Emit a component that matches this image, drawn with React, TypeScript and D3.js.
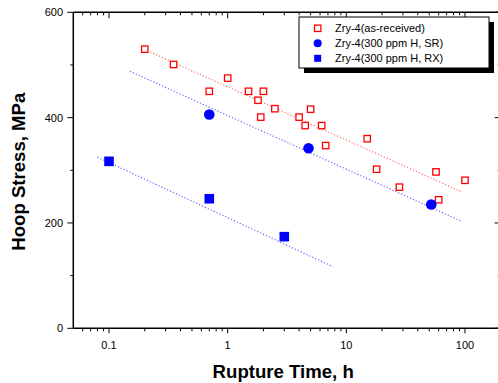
import React, { useEffect, useRef } from "react";
import * as d3 from "d3";

// rupture time (h) and hoop stress (MPa)
const asReceivedTime = [0.2, 0.35, 0.7, 1, 1.5, 2, 1.8, 2.5, 1.9, 5, 4, 4.5, 6.2, 6.7, 15, 18, 28, 57, 100, 60];
const asReceivedStress = [530, 501, 450, 475, 450, 450, 433, 417, 401, 416, 401, 385, 385, 347, 360, 302, 268, 297, 281, 244];

const srTime = [0.7, 4.8, 52];
const srStress = [406, 342, 235];

const rxTime = [0.1, 0.7, 3];
const rxStress = [317, 246, 174];

// dotted fit lines, end points [time, stress]
const fitAsReceived = [[0.21, 527], [92, 260]];
const fitSR = [[0.15, 488], [92, 204]];
const fitRX = [[0.08, 325], [7.7, 117]];

const xTicks = [0.1, 1, 10, 100];
const yTicks = [0, 200, 400, 600];

const legendLabels = ["Zry-4(as-received)", "Zry-4(300 ppm H, SR)", "Zry-4(300 ppm H, RX)"];

const App = () => {
  const ref = useRef<SVGSVGElement>(null);

  useEffect(() => {
    draw();
  });

  const draw = () => {
    const svg = d3.select(ref.current);
    svg.selectAll("*").remove();

    const left = 73.3;
    const right = 500.7;
    const top = 12.3;
    const bottom = 328.3;
    const font = "Arial, 'Liberation Sans', sans-serif";

    const x = d3.scaleLog().domain([0.05, 200]).range([left, right]);
    const y = d3.scaleLinear().domain([0, 600]).range([bottom, top]);

    // minor ticks on log axis
    const minor: number[] = [];
    [0.01, 0.1, 1, 10, 100].forEach((d) => {
      for (let k = 2; k <= 9; k++) {
        const v = d * k;
        if (v > 0.05 && v < 200) minor.push(v);
      }
    });
    const yMinor = [100, 300, 500];

    const g = svg.append("g");

    // fit lines
    const line = d3
      .line<number[]>()
      .x((d) => x(d[0]))
      .y((d) => y(d[1]));

    g.append("path")
      .attr("d", line(fitAsReceived))
      .attr("fill", "none")
      .attr("stroke", "#ff7070")
      .attr("stroke-width", 1.2)
      .attr("stroke-dasharray", "1.2 2");
    g.append("path")
      .attr("d", line(fitSR))
      .attr("fill", "none")
      .attr("stroke", "#6a6aff")
      .attr("stroke-width", 1.2)
      .attr("stroke-dasharray", "1.2 2");
    g.append("path")
      .attr("d", line(fitRX))
      .attr("fill", "none")
      .attr("stroke", "#6a6aff")
      .attr("stroke-width", 1.2)
      .attr("stroke-dasharray", "1.2 2");

    // as-received: open red squares
    g.selectAll("rect.ar")
      .data(asReceivedTime)
      .enter()
      .append("rect")
      .attr("x", (d) => x(d) - 3.2)
      .attr("y", (d, i) => y(asReceivedStress[i]) - 3.2)
      .attr("width", 6.4)
      .attr("height", 6.4)
      .attr("fill", "white")
      .attr("stroke", "#ff0000")
      .attr("stroke-width", 1.3);

    // SR: filled blue circles
    g.selectAll("circle.sr")
      .data(srTime)
      .enter()
      .append("circle")
      .attr("cx", (d) => x(d))
      .attr("cy", (d, i) => y(srStress[i]))
      .attr("r", 5.3)
      .attr("fill", "#0000ff");

    // RX: filled blue squares
    g.selectAll("rect.rx")
      .data(rxTime)
      .enter()
      .append("rect")
      .attr("x", (d) => x(d) - 4.8)
      .attr("y", (d, i) => y(rxStress[i]) - 4.8)
      .attr("width", 9.6)
      .attr("height", 9.6)
      .attr("fill", "#0000ff");

    // frame
    const axes = svg.append("g").attr("stroke", "#000").attr("stroke-width", 1.5);
    axes.append("line").attr("x1", left).attr("x2", right).attr("y1", bottom).attr("y2", bottom);
    axes.append("line").attr("x1", left).attr("x2", right).attr("y1", top).attr("y2", top);
    axes.append("line").attr("x1", left).attr("x2", left).attr("y1", top).attr("y2", bottom);
    axes.append("line").attr("x1", right).attr("x2", right).attr("y1", top).attr("y2", bottom);

    const ticks = svg.append("g").attr("stroke", "#000").attr("stroke-width", 1);
    xTicks.forEach((d) => {
      ticks.append("line").attr("x1", x(d)).attr("x2", x(d)).attr("y1", bottom).attr("y2", bottom + 5);
      ticks.append("line").attr("x1", x(d)).attr("x2", x(d)).attr("y1", top).attr("y2", top + 6);
    });
    minor.forEach((d) => {
      ticks.append("line").attr("x1", x(d)).attr("x2", x(d)).attr("y1", bottom).attr("y2", bottom + 3);
      ticks.append("line").attr("x1", x(d)).attr("x2", x(d)).attr("y1", top).attr("y2", top + 3);
    });
    yTicks.forEach((d) => {
      ticks.append("line").attr("x1", left - 6).attr("x2", left).attr("y1", y(d)).attr("y2", y(d));
      ticks.append("line").attr("x1", right - 6).attr("x2", right).attr("y1", y(d)).attr("y2", y(d));
    });
    yMinor.forEach((d) => {
      ticks.append("line").attr("x1", left - 3).attr("x2", left).attr("y1", y(d)).attr("y2", y(d));
      ticks.append("line").attr("x1", right - 3).attr("x2", right).attr("y1", y(d)).attr("y2", y(d));
    });

    // tick labels
    svg
      .selectAll("text.xt")
      .data(xTicks)
      .enter()
      .append("text")
      .attr("x", (d) => x(d))
      .attr("y", 348.5)
      .attr("text-anchor", "middle")
      .attr("font-family", font)
      .attr("font-size", 11)
      .text((d) => String(d));
    svg
      .selectAll("text.yt")
      .data(yTicks)
      .enter()
      .append("text")
      .attr("x", 63)
      .attr("y", (d) => y(d) + 4)
      .attr("text-anchor", "end")
      .attr("font-family", font)
      .attr("font-size", 11)
      .text((d) => String(d));

    // axis titles
    svg
      .append("text")
      .attr("x", 283.2)
      .attr("y", 377.7)
      .attr("text-anchor", "middle")
      .attr("font-family", font)
      .attr("font-weight", "bold")
      .attr("font-size", 18.6)
      .text("Rupture Time, h");
    svg
      .append("text")
      .attr("transform", `translate(25, 171.7) rotate(-90)`)
      .attr("text-anchor", "middle")
      .attr("font-family", font)
      .attr("font-weight", "bold")
      .attr("font-size", 18.6)
      .text("Hoop Stress, MPa");

    // legend
    const lg = svg.append("g");
    lg.append("rect").attr("x", 304).attr("y", 22).attr("width", 190).attr("height", 51).attr("fill", "#000");
    lg.append("rect")
      .attr("x", 299)
      .attr("y", 17)
      .attr("width", 190)
      .attr("height", 51)
      .attr("fill", "white")
      .attr("stroke", "#000")
      .attr("stroke-width", 1);
    const rows = [28.3, 43.3, 58.3];
    const sx = 317.7;
    lg.append("rect")
      .attr("x", sx - 3.2)
      .attr("y", rows[0] - 3.2)
      .attr("width", 6.4)
      .attr("height", 6.4)
      .attr("fill", "white")
      .attr("stroke", "#ff0000")
      .attr("stroke-width", 1.3);
    lg.append("circle").attr("cx", sx).attr("cy", rows[1]).attr("r", 4).attr("fill", "#0000ff");
    lg.append("rect")
      .attr("x", sx - 3.5)
      .attr("y", rows[2] - 3.5)
      .attr("width", 7)
      .attr("height", 7)
      .attr("fill", "#0000ff");
    legendLabels.forEach((t, i) => {
      lg.append("text")
        .attr("x", 335)
        .attr("y", rows[i] + 4)
        .attr("font-family", font)
        .attr("font-size", 11)
        .text(t);
    });
  };

  return (
    <svg
      ref={ref}
      width={498}
      height={383}
      style={{ position: "absolute", left: 0, top: 0, background: "white" }}
    ></svg>
  );
};

export default App;
